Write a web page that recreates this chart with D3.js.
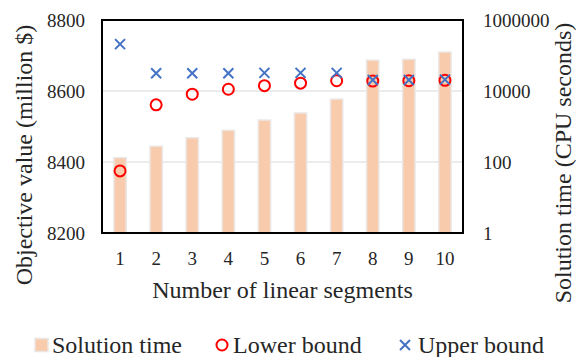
<!DOCTYPE html>
<html>
<head>
<meta charset="utf-8">
<script src="https://cdn.jsdelivr.net/npm/d3@7"></script>
<style>
  body { margin: 0; background: #fff; }
</style>
</head>
<body>
<svg id="chart" width="576" height="357"></svg>
<script>
const segments = [1, 2, 3, 4, 5, 6, 7, 8, 9, 10];
const solutionTime = [132, 277, 480, 780, 1520, 2400, 5900, 74000, 78000, 125000];
const lowerBound = [8375, 8561, 8591, 8605, 8615, 8622, 8629, 8628, 8629, 8630];
const upperBound = [8732, 8650, 8650, 8650, 8651, 8651, 8651, 8631, 8631, 8632];
const leftTicks = [8200, 8400, 8600, 8800];
const rightTicks = [1, 100, 10000, 1000000];

const plot = { left: 102, right: 463, top: 20, bottom: 233 };
const barColor = '#f8cbad';
const redColor = '#ff0000';
const blueColor = '#4472c4';
const textColor = '#262626';
const serif = "'Liberation Serif'";

const svg = d3.select('#chart');

const x = d3.scaleBand()
  .domain(segments)
  .range([plot.left, plot.right])
  .padding(0);

const y = d3.scaleLinear()
  .domain([8200, 8800])
  .range([plot.bottom, plot.top]);

const y2 = d3.scaleLog()
  .domain([1, 1000000])
  .range([plot.bottom, plot.top]);

// gridlines
svg.append('g')
  .selectAll('line')
  .data(leftTicks.slice(1, -1))
  .enter()
  .append('line')
  .attr('x1', plot.left)
  .attr('x2', plot.right)
  .attr('y1', d => y(d))
  .attr('y2', d => y(d))
  .attr('stroke', '#d9d9d9')
  .attr('stroke-width', 1);

// bars (solution time, right log axis)
const barW = x.bandwidth() * 0.34;
svg.append('g')
  .selectAll('rect')
  .data(segments)
  .enter()
  .append('rect')
  .attr('x', d => x(d) + (x.bandwidth() - barW) / 2)
  .attr('y', (d, i) => y2(solutionTime[i]))
  .attr('width', barW)
  .attr('height', (d, i) => y2(1) - y2(solutionTime[i]))
  .attr('fill', barColor)
  .attr('stroke', '#ebe6e3')
  .attr('stroke-width', 1.5);

// lower bound circles
svg.append('g')
  .selectAll('circle')
  .data(segments)
  .enter()
  .append('circle')
  .attr('cx', d => x(d) + x.bandwidth() / 2)
  .attr('cy', (d, i) => y(lowerBound[i]))
  .attr('r', 5.5)
  .attr('fill', 'none')
  .attr('stroke', redColor)
  .attr('stroke-width', 2);

// upper bound crosses
const s = 5;
const crossPath = `M${-s},${-s}L${s},${s}M${-s},${s}L${s},${-s}`;
svg.append('g')
  .selectAll('path')
  .data(segments)
  .enter()
  .append('path')
  .attr('transform', (d, i) => 'translate(' + (x(d) + x.bandwidth() / 2) + ',' + y(upperBound[i]) + ')')
  .attr('d', crossPath)
  .attr('stroke', blueColor)
  .attr('stroke-width', 2)
  .attr('fill', 'none');

// plot border
svg.append('rect')
  .attr('x', plot.left)
  .attr('y', plot.top)
  .attr('width', plot.right - plot.left)
  .attr('height', plot.bottom - plot.top)
  .attr('fill', 'none')
  .attr('stroke', '#000')
  .attr('stroke-width', 2);

// axes
const leftAxis = svg.append('g')
  .attr('transform', 'translate(' + plot.left + ',0)')
  .call(d3.axisLeft(y).tickValues(leftTicks).tickSize(0).tickPadding(17).tickFormat(d3.format('d')));
leftAxis.select('.domain').remove();

const rightAxis = svg.append('g')
  .attr('transform', 'translate(' + plot.right + ',0)')
  .call(d3.axisRight(y2).tickValues(rightTicks).tickSize(0).tickPadding(20).tickFormat(d3.format('d')));
rightAxis.select('.domain').remove();

const bottomAxis = svg.append('g')
  .attr('transform', 'translate(0,' + plot.bottom + ')')
  .call(d3.axisBottom(x).tickSize(0).tickPadding(19));
bottomAxis.select('.domain').remove();

svg.selectAll('.tick text')
  .style('font-family', serif)
  .style('font-size', '19px')
  .attr('fill', textColor);

// axis titles
function title(sel) {
  sel.attr('text-anchor', 'middle')
    .style('font-family', serif)
    .style('font-size', '24px')
    .attr('fill', textColor);
}

svg.append('text')
  .attr('x', (plot.left + plot.right) / 2)
  .attr('y', 298)
  .call(title)
  .text('Number of linear segments');

svg.append('text')
  .attr('transform', 'translate(32,155) rotate(-90)')
  .call(title)
  .text('Objective value (million $)');

svg.append('text')
  .attr('transform', 'translate(571,163) rotate(-90)')
  .call(title)
  .text('Solution time (CPU seconds)');

// legend
const legendY = 345;
const legend = svg.append('g');

function legendText(sel) {
  sel.style('font-family', serif)
    .style('font-size', '24px')
    .attr('fill', textColor);
}

legend.append('rect')
  .attr('x', 35)
  .attr('y', legendY - 6.5)
  .attr('width', 13)
  .attr('height', 13)
  .attr('fill', barColor)
  .attr('stroke', '#ebe6e3')
  .attr('stroke-width', 1.5);
legend.append('text')
  .attr('x', 52)
  .attr('y', legendY + 8)
  .call(legendText)
  .text('Solution time');

legend.append('circle')
  .attr('cx', 222)
  .attr('cy', legendY)
  .attr('r', 5.5)
  .attr('fill', 'none')
  .attr('stroke', redColor)
  .attr('stroke-width', 2);
legend.append('text')
  .attr('x', 233)
  .attr('y', legendY + 8)
  .call(legendText)
  .text('Lower bound');

legend.append('path')
  .attr('transform', 'translate(405,' + legendY + ')')
  .attr('d', crossPath)
  .attr('stroke', blueColor)
  .attr('stroke-width', 2)
  .attr('fill', 'none');
legend.append('text')
  .attr('x', 418)
  .attr('y', legendY + 8)
  .call(legendText)
  .text('Upper bound');
</script>
</body>
</html>
